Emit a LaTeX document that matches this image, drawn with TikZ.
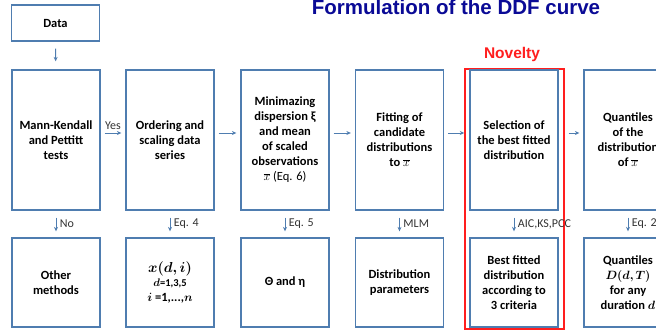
\documentclass[tikz,border=0pt]{standalone}
\usepackage{amsmath, bm}
\usepackage{fontspec}
\setmainfont{Carlito}
\newfontfamily\headfont{Liberation Sans}
\usepackage{xcolor}
\definecolor{DDFblue}{HTML}{4F7DB0}
\definecolor{DDFtitle}{HTML}{0A0A96}
\definecolor{DDFred}{HTML}{FF1E1E}
\usepackage{tikz}
\usetikzlibrary{arrows.meta, positioning}

\begin{document}
\begin{tikzpicture}[x=1pt, y=-1pt]
  \tikzset{
    stepbox/.style={draw=DDFblue, line width=1.3pt, minimum width=88pt, minimum height=140pt,
      align=center, inner sep=2pt, font=\bfseries\fontsize{12.5}{15}\selectfont},
    lowbox/.style={stepbox, minimum height=89pt},
    flow/.style={-{Stealth[length=4.5pt, width=4pt]}, DDFblue, line width=0.9pt},
    lbl/.style={font=\fontsize{12}{14}\selectfont, text=black!80, inner sep=1.5pt},
  }
  \useasboundingbox (0,0) rectangle (656,331);
  \clip (0,0) rectangle (656,331);

  % Title and highlight label
  \node[DDFtitle, font=\headfont\bfseries\fontsize{20.5}{24}\selectfont, anchor=base] (title) at (456,15) {Formulation of the DDF curve};
  \node[DDFred, font=\headfont\bfseries\fontsize{15.5}{18}\selectfont, anchor=base] (novel) at (512,59) {Novelty};
  \node[draw=DDFred, line width=1.4pt, minimum width=99pt, minimum height=260pt] (redbox) at (514.5,199) {};

  % Input
  \node[stepbox, minimum height=36pt] (data) at (55.5,23) {Data};

  % Upper row
  \node[stepbox] (trend) at (56,140) {Mann-Kendall\\and Pettitt\\tests};
  \node[stepbox] (order) at (170,140) {Ordering and\\scaling data\\series};
  \node[stepbox] (disp)  at (285,140) {Minimazing\\dispersion ξ\\and mean\\of scaled\\observations\\\normalfont$\overline{x}$ (Eq. 6)};
  \node[stepbox] (fit)   at (399.5,140) {Fitting of\\candidate\\distributions\\to $\overline{x}$};
  \node[stepbox] (best)  at (514,140) {Selection of\\the best fitted\\distribution};
  \node[stepbox] (quant) at (628,140) {Quantiles\\of the\\distribution\\of $\overline{x}$};

  % Lower row
  \node[lowbox] (other)  at (56,282.5) {Other\\methods};
  \node[lowbox] (series) at (170,282.5) {\fontsize{14}{18}\selectfont$\bm{x(d,i)}$\\[-1pt]
    \fontsize{10.5}{14}\selectfont$\bm{d}$=1,3,5\\$\bm{i}$ =1,...,$\bm{n}$};
  \node[lowbox] (theta)  at (285,282.5) {Θ and η};
  \node[lowbox] (param)  at (399.5,282.5) {Distribution\\parameters};
  \node[lowbox] (crit)   at (514,282.5) {Best fitted\\distribution\\according to\\3 criteria};
  \node[lowbox] (ddf)    at (628,282.5) {Quantiles\\$\bm{D(d,T)}$\\for any\\duration $\bm{d}$};

  % Connectors
  \draw[flow, shorten <=7pt, shorten >=8pt] (data) -- (trend);
  \draw[flow, shorten <=4pt, shorten >=4pt] ([yshift=7pt]trend.east) -- node[lbl, above=1pt] {Yes} ([yshift=7pt]order.west);
  \draw[flow, shorten <=4pt, shorten >=4pt] ([yshift=7pt]order.east) -- ([yshift=7pt]disp.west);
  \draw[flow, shorten <=4pt, shorten >=4pt] ([yshift=7pt]disp.east) -- ([yshift=7pt]fit.west);
  \draw[flow, shorten <=4pt] ([yshift=7pt]fit.east) -- ([yshift=7pt]fit.east -| redbox.west);
  \draw[flow, shorten <=4pt, shorten >=4pt] ([yshift=7pt]redbox.east |- best.east) -- ([yshift=7pt]quant.west);

  \draw[flow, shorten <=7pt, shorten >=6pt] (trend) -- node[lbl, right=2pt] {No} (other);
  \draw[flow, shorten <=7pt, shorten >=6pt] (order) -- node[lbl, right=2pt] {Eq. 4} (series);
  \draw[flow, shorten <=7pt, shorten >=6pt] (disp) -- node[lbl, right=2pt] {Eq. 5} (theta);
  \draw[flow, shorten <=7pt, shorten >=6pt] (fit) -- node[lbl, right=2pt] {MLM} (param);
  \draw[flow, shorten <=7pt, shorten >=6pt] (best) -- node[lbl, right=2pt] {AIC,KS,PCC} (crit);
  \draw[flow, shorten <=7pt, shorten >=6pt] (quant) -- node[lbl, right=2pt] {Eq. 2} (ddf);
\end{tikzpicture}
\end{document}
